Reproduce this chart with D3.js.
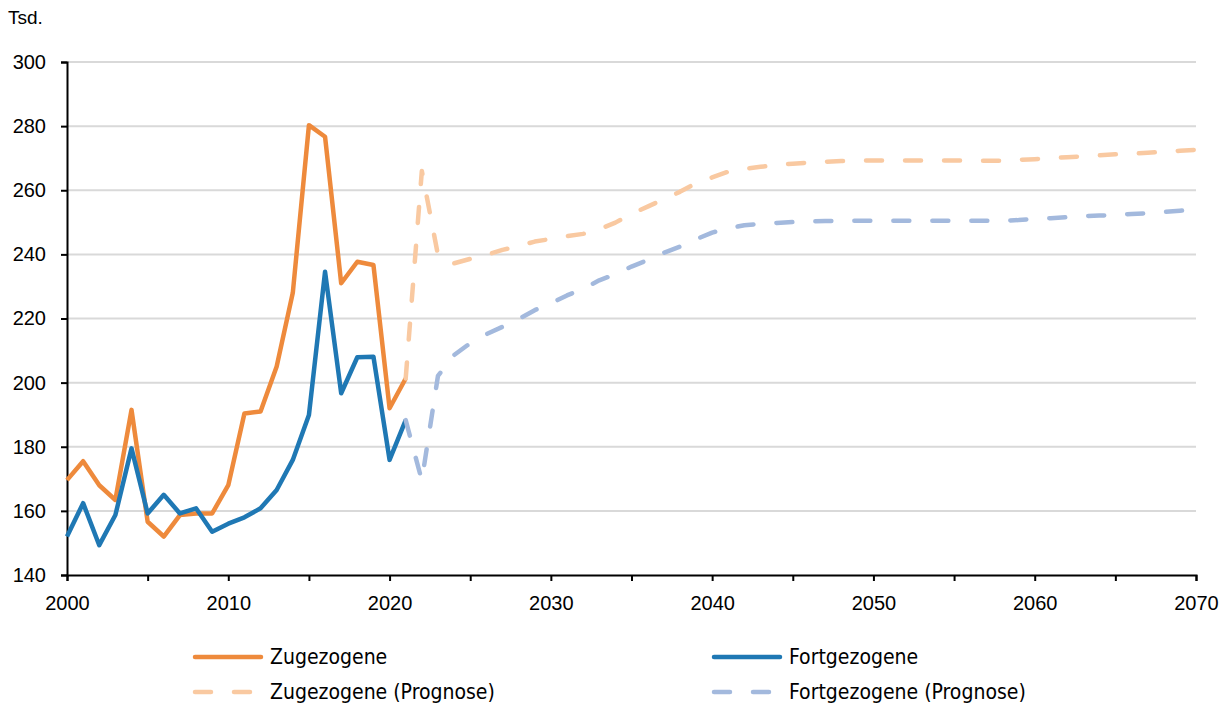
<!DOCTYPE html>
<html>
<head>
<meta charset="utf-8">
<script src="https://cdn.jsdelivr.net/npm/d3@7"></script>
<style>
  body { margin: 0; background: #fff; }
</style>
</head>
<body>
<script>
// Wanderungen: Zugezogene / Fortgezogene in Tsd., mit Prognose bis 2070

const width = 1231;
const height = 708;

const histYears = d3.range(2000, 2022);
const zugezogene = [169.6, 175.5, 168, 163.4, 191.5, 156.6, 152, 158.7, 159.2, 159.2, 168,
                    190.4, 191, 205, 228, 280.3, 276.7, 231, 237.7, 236.7, 192, 201.3];
const fortgezogene = [152, 162.4, 149.3, 158.7, 179.5, 159.2, 165, 159.2, 160.8, 153.5, 156,
                      158, 160.8, 166.5, 175.9, 189.9, 234.6, 196.7, 207.9, 208.1, 175.9, 188.3];

const progYears = d3.range(2021, 2071);
const zugezogeneProg = [201.3, 266, 239.8, 237.2, 238.6, 239.8, 241.4, 242.6, 244, 244.8,
                        245.7, 246.4, 247.8, 249.9, 252.6, 254.9, 257.2, 259.5, 262.2, 264,
                        265.8, 266.7, 267.3, 267.9, 268.3, 268.6, 268.9, 269.1, 269.2, 269.3,
                        269.3, 269.3, 269.3, 269.3, 269.3, 269.2, 269.2, 269.2, 269.5, 269.7,
                        270, 270.3, 270.6, 270.9, 271.2, 271.4, 271.7, 272, 272.3, 272.6];
const fortgezogeneProg = [188.3, 169.5, 202.1, 208.6, 212.3, 215.1, 217.4, 219.8, 222.6, 224.7,
                          227.2, 229.3, 231.9, 233.8, 236.2, 238.2, 240.5, 242.4, 244.7, 246.8,
                          248.1, 249.1, 249.5, 249.8, 250.1, 250.3, 250.4, 250.5, 250.5, 250.5,
                          250.5, 250.5, 250.5, 250.5, 250.5, 250.5, 250.5, 250.5, 250.7, 251.1,
                          251.3, 251.6, 251.9, 252.1, 252.3, 252.6, 252.8, 253.2, 253.6, 254];

const yTicks = [140, 160, 180, 200, 220, 240, 260, 280, 300];
const xLabels = [2000, 2010, 2020, 2030, 2040, 2050, 2060, 2070];
const xMinorTicks = d3.range(2000, 2071, 5);

const series = [
  {name: "Zugezogene", years: histYears, values: zugezogene, color: "#ee8a3c", dash: null},
  {name: "Fortgezogene", years: histYears, values: fortgezogene, color: "#1f78b4", dash: null},
  {name: "Zugezogene (Prognose)", years: progYears, values: zugezogeneProg, color: "#f9c9a1", dash: "16,23"},
  {name: "Fortgezogene (Prognose)", years: progYears, values: fortgezogeneProg, color: "#a3b9dd", dash: "16,23"}
];

const tickFont = "Liberation Sans, Arial, sans-serif";
const margin = {top: 62, right: 35, bottom: 133, left: 67};

const svg = d3.select("body").append("svg")
    .attr("width", width)
    .attr("height", height);

const x = d3.scaleLinear().domain([2000, 2070]).range([margin.left, width - margin.right]);
const y = d3.scaleLinear().domain([140, 300]).range([height - margin.bottom, margin.top]);

// gridlines
svg.append("g")
    .selectAll("line")
    .data(yTicks.filter(d => d > 140))
  .enter().append("line")
    .attr("x1", x(2000))
    .attr("x2", x(2070))
    .attr("y1", d => y(d))
    .attr("y2", d => y(d))
    .attr("stroke", "#d9d9d9")
    .attr("stroke-width", 2);

// unit label
svg.append("text")
    .attr("x", 8)
    .attr("y", 24)
    .style("font-family", tickFont)
    .style("font-size", "19px")
    .text("Tsd.");

// y axis
const yAxis = d3.axisLeft(y).tickValues(yTicks).tickSize(6).tickPadding(15).tickFormat(d3.format("d"));
const gy = svg.append("g")
    .attr("transform", `translate(${x(2000)},0)`)
    .call(yAxis);
gy.select(".domain").attr("stroke", "#000").attr("stroke-width", 2);
gy.selectAll(".tick line").attr("stroke", "#000").attr("stroke-width", 2);
gy.selectAll(".tick text").style("font-family", tickFont).style("font-size", "20px").attr("fill", "#000");

// x axis: minor ticks every 5 years, labels every 10
const xAxis = d3.axisBottom(x).tickValues(xMinorTicks).tickSize(6).tickPadding(15)
    .tickFormat(d => xLabels.includes(d) ? d : "");
const gx = svg.append("g")
    .attr("transform", `translate(0,${y(140)})`)
    .call(xAxis);
gx.select(".domain").attr("stroke", "#000").attr("stroke-width", 2);
gx.selectAll(".tick line").attr("stroke", "#000").attr("stroke-width", 2);
gx.selectAll(".tick text").style("font-family", tickFont).style("font-size", "20px").attr("fill", "#000");

// lines
const line = d3.line()
    .x(d => x(d[0]))
    .y(d => y(d[1]));

svg.append("g")
    .selectAll("path")
    .data(series)
  .enter().append("path")
    .attr("d", s => line(s.years.map((yr, i) => [yr, s.values[i]])))
    .attr("fill", "none")
    .attr("stroke", s => s.color)
    .attr("stroke-width", 4.5)
    .attr("stroke-linejoin", "round")
    .attr("stroke-linecap", s => s.dash ? "round" : "butt")
    .attr("stroke-dasharray", s => s.dash);

// legend (2 columns x 2 rows)
const legendPos = [[195, 657], [714, 657], [195, 692], [714, 692]];
const legend = svg.append("g")
    .selectAll("g")
    .data(series)
  .enter().append("g")
    .attr("transform", (s, i) => `translate(${legendPos[i][0]},${legendPos[i][1]})`);

legend.append("line")
    .attr("x1", 0)
    .attr("x2", 66)
    .attr("stroke", s => s.color)
    .attr("stroke-width", 4.5)
    .attr("stroke-linecap", "round")
    .attr("stroke-dasharray", s => s.dash);

legend.append("text")
    .attr("x", 75)
    .attr("dy", "0.35em")
    .style("font-family", "DejaVu Sans Condensed, sans-serif")
    .style("font-size", "21px")
    .attr("fill", "#000")
    .text(s => s.name);
</script>
</body>
</html>
